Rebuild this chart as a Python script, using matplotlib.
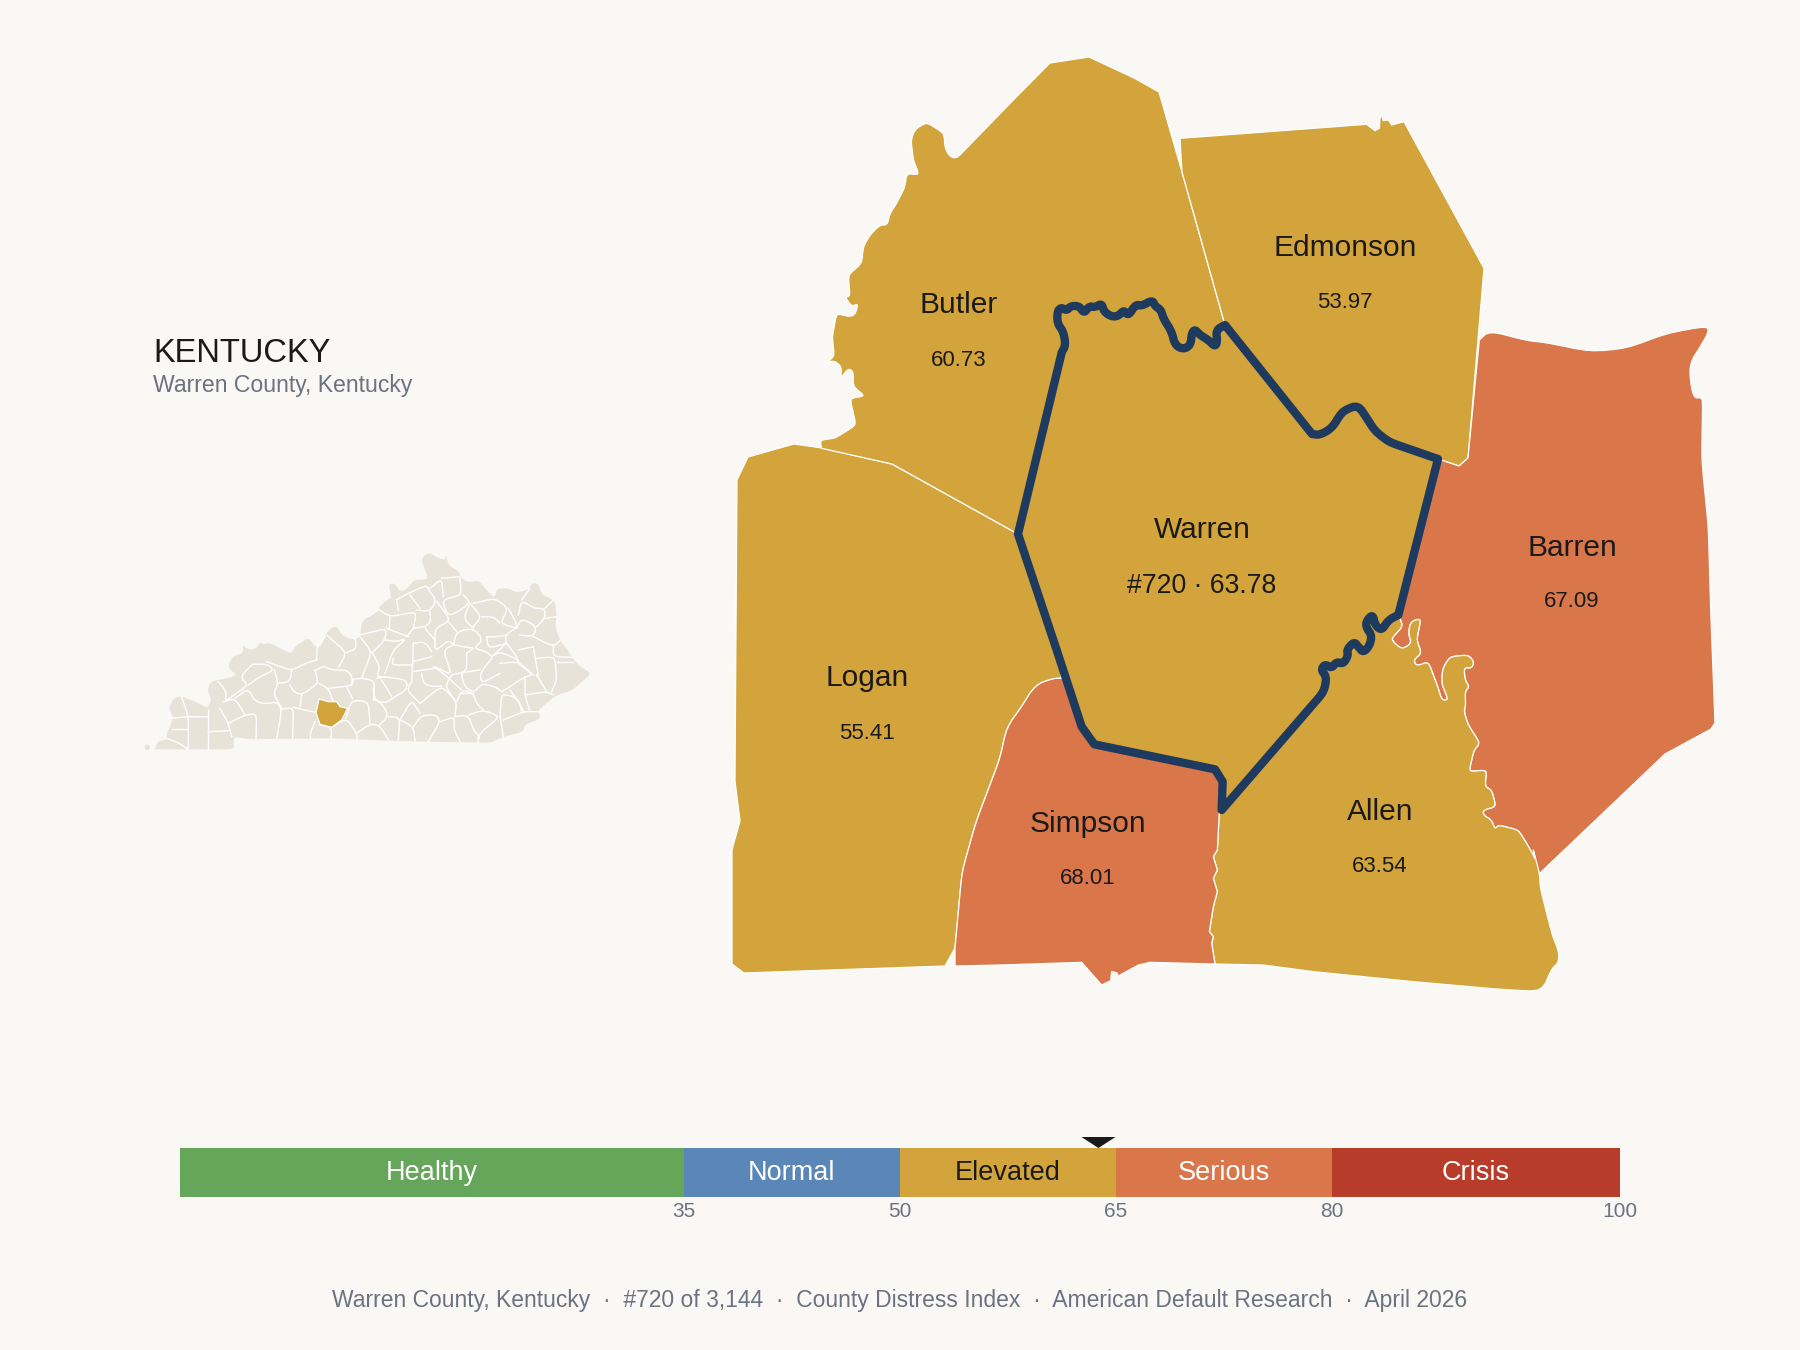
import matplotlib
matplotlib.use("Agg")
import matplotlib.pyplot as plt
from matplotlib.patches import Polygon, Circle
from bisect import bisect_right

plt.rcParams['font.family'] = ['Liberation Sans', 'DejaVu Sans']

BG = '#FAF8F4'
INK = '#1A1A1A'
GREY = '#6B7280'
NAVY = '#1E3A5F'
LAND = '#E8E3D9'

# ---- score bands ----
BAND_NAMES = ['Healthy', 'Normal', 'Elevated', 'Serious', 'Crisis']
BAND_EDGES = [0, 35, 50, 65, 80, 100]
BAND_COLORS = ['#66A65A', '#5B87B8', '#D2A43B', '#D9764A', '#B83C2A']
BAND_TEXT = ['white', 'white', INK, 'white', 'white']
EDGE_LABELS = [35, 50, 65, 80, 100]
WARREN_SCORE = 63.78

# ---- counties ----
COUNTIES = ['Logan', 'Butler', 'Edmonson', 'Barren', 'Allen', 'Simpson', 'Warren']
SCORES = [55.41, 60.73, 53.97, 67.09, 63.54, 68.01, 63.78]
VALUE_TEXT = ['55.41', '60.73', '53.97', '67.09', '63.54', '68.01', '#720 · 63.78']
LABEL_X = [867, 959, 1345, 1572, 1380, 1088, 1202]
NAME_Y = [686, 313, 256, 556, 820, 832, 538]
VALUE_Y = [739, 366, 308, 607, 872, 884, 593]


def crop(x0, y0, pts):
    return [(x0 + x / 3, y0 + y / 3) for x, y in pts]


def soften(pts, d=3.5, rounds=2):
    """Round the corners of a traced border, leaving its two ends in place."""
    for _ in range(rounds):
        out = [pts[0]]
        for (x1, y1), (x2, y2) in zip(pts[:-1], pts[1:]):
            n = ((x2 - x1) ** 2 + (y2 - y1) ** 2) ** 0.5 or 1
            t = min(0.25, d / n)
            out += [(x1 + (x2 - x1) * t, y1 + (y2 - y1) * t), (x2 - (x2 - x1) * t, y2 - (y2 - y1) * t)]
        out.append(pts[-1])
        pts = out
    return pts


# shared borders, map units
W_NORTH = soften(crop(1000, 270, [(185, 248), (197, 225), (190, 185), (172, 160), (172, 125), (183, 112),
                                  (200, 122), (212, 108), (238, 108), (252, 130), (268, 108), (285, 112), (305, 100),
                                  (312, 125), (335, 140), (355, 138), (372, 120), (385, 138), (407, 103), (425, 108),
                                  (457, 90), (465, 108), (483, 120), (490, 145), (515, 185), (525, 225), (550, 238),
                                  (572, 225), (575, 190), (585, 178), (600, 195), (625, 210), (645, 230), (652, 215),
                                  (648, 180), (675, 165)]))
W_NE = soften([(1312, 434), (1320, 435), (1332, 428), (1340, 415), (1345, 410), (1358, 405), (1368, 420), (1375, 431),
               (1389, 442), (1438, 459)])
W_SE = soften(crop(1220, 590, [(535, 75), (505, 90), (485, 122), (465, 105), (458, 72), (438, 95), (440, 115), (455, 135),
                               (450, 165), (430, 188), (415, 170), (402, 155), (380, 180), (385, 195), (370, 222),
                               (350, 215), (335, 235), (315, 222), (303, 240), (320, 260), (312, 305), (5, 660)]))
W_SOUTH = crop(1000, 650, [(668, 395), (645, 358), (283, 283), (245, 230), (170, 0)])
W_WEST = [(1018, 534)]
WARREN_RING = W_NORTH + W_NE + W_SE + W_SOUTH + W_WEST

ALLEN_BARREN = soften(crop(1220, 590, [(540, 85), (548, 110), (512, 148), (545, 178), (575, 160), (565, 130), (572, 95),
                                       (603, 85), (590, 150), (605, 190), (580, 210), (590, 228), (625, 215), (655, 295),
                                       (665, 330), (685, 330), (665, 280), (668, 235), (690, 200), (745, 195), (762, 215),
                                       (755, 235), (732, 232), (735, 270), (748, 290), (735, 305), (737, 345), (732, 365),
                                       (745, 405), (780, 460), (762, 480), (747, 545), (800, 540), (795, 590), (815, 600),
                                       (828, 650), (790, 660), (790, 675), (815, 690), (825, 718), (835, 705), (895, 720),
                                       (920, 760), (945, 805)]), d=2.5)
SIMPSON_ALLEN = crop(1000, 650, [(658, 485), (652, 600), (640, 620), (652, 660), (640, 685), (652, 725), (640, 770),
                                 (628, 845), (640, 860), (635, 880), (645, 942)])
LOGAN_SIMPSON = soften([(955, 948), (962, 872), (976, 822)] + crop(
    1000, 650, [(0, 325), (20, 232), (65, 170), (105, 105), (160, 85), (185, 85)]), d=6)
BUTLER_COAST = soften(crop(800, 100, [(640, 0), (470, 175), (450, 170), (435, 145), (432, 100), (380, 67), (345, 88),
                                      (333, 120), (340, 180), (358, 225), (320, 220), (315, 260), (290, 310), (270, 340),
                                      (262, 375), (240, 375), (210, 405), (190, 440), (185, 490), (145, 525), (150, 590),
                                      (135, 590), (155, 620), (175, 610), (165, 645), (145, 650), (110, 640), (97, 710),
                                      (103, 770), (70, 795), (100, 780), (125, 800), (122, 835), (145, 805), (160, 815),
                                      (160, 860), (195, 888), (150, 895), (168, 975), (105, 1015), (60, 1020), (65, 1045)]),
                      d=2.5)
BARREN_NORTH = soften(crop(1400, 310, [(238, 90), (268, 62), (380, 92), (435, 97), (570, 125), (680, 115), (800, 70),
                                       (920, 48), (927, 65), (895, 120), (875, 150), (868, 190), (880, 265), (905, 262),
                                       (908, 280), (905, 450), (925, 650), (932, 900)]), d=8)
ALLEN_SOUTH = soften(crop(1180, 780, [(1060, 210), (1080, 285), (1080, 320), (1118, 470), (1137, 515), (1135, 550),
                                      (1115, 565), (1086, 635), (960, 628), (700, 605), (400, 575), (250, 555)]), d=6)

OUTLINES = {
    'Logan': [(794, 444), (748, 457), (737, 480), (735, 781), (740, 821), (732, 850), (732, 964), (744, 973),
              (945, 966)] + LOGAN_SIMPSON + [(1057, 650), (1018, 534), (892, 464), (822, 448)],
    'Butler': [(1050, 63), (1089, 57), (1134, 78), (1159, 92), (1182, 172)] + W_NORTH[::-1] + [(1018, 534), (892, 464)]
              + BUTLER_COAST[::-1],
    'Edmonson': crop(1180, 100, [(0, 115), (560, 73), (585, 92), (598, 85), (600, 55), (605, 45), (610, 62),
                                 (625, 60), (635, 75), (672, 65), (912, 505)])
                + [(1468, 458), (1459, 466), (1438, 459)] + W_NE[::-1] + [(1225, 325), (1182, 172)],
    'Barren': [(1438, 459), (1459, 466), (1468, 458)] + BARREN_NORTH
              + [(1715, 723), (1711, 729), (1665, 754), (1538, 875)] + ALLEN_BARREN[::-1] + [(1398, 615)],
    'Allen': W_SE[::-1] + ALLEN_BARREN + ALLEN_SOUTH + SIMPSON_ALLEN[::-1],
    'Simpson': [(955, 966)] + crop(1000, 650, [(0, 945), (245, 937), (305, 1005), (332, 992), (335, 965), (350, 968),
                                               (355, 978), (415, 945), (450, 937)])
               + SIMPSON_ALLEN[::-1] + W_SOUTH + LOGAN_SIMPSON[::-1],
    'Warren': WARREN_RING,
}

# ---- state locator, units of the inset ----
KY_OUTLINE = [(103, 688), (343, 688), (340, 650), (380, 657), (470, 657), (635, 655), (800, 662), (920, 665),
              (1115, 668), (1145, 652), (1210, 635), (1215, 612), (1255, 600), (1262, 585), (1250, 575), (1285, 545),
              (1310, 525), (1355, 512), (1415, 460), (1380, 440), (1355, 412), (1340, 385), (1320, 362), (1305, 315),
              (1310, 290), (1305, 240), (1265, 225), (1255, 190), (1235, 190), (1225, 210), (1190, 218), (1165, 205),
              (1130, 205), (1125, 235), (1100, 210), (1075, 180), (1050, 188), (1022, 175), (1018, 155), (985, 135),
              (978, 103), (975, 120), (950, 112), (928, 97), (903, 115), (915, 150), (925, 178), (890, 180),
              (880, 182), (860, 208), (840, 215), (825, 190), (805, 192), (815, 235), (800, 240), (775, 262),
              (780, 270), (750, 290), (735, 295), (723, 315), (722, 350), (700, 360), (665, 345), (650, 315),
              (625, 330), (615, 350), (605, 375), (590, 385), (565, 352), (540, 370), (525, 380), (515, 400),
              (500, 395), (472, 380), (445, 367), (430, 375), (420, 365), (410, 385), (385, 390), (367, 372),
              (370, 400), (345, 405), (325, 430), (330, 450), (350, 462), (335, 472), (295, 480), (270, 485),
              (262, 515), (275, 535), (265, 565), (240, 552), (190, 530), (165, 530), (145, 565), (160, 590),
              (150, 620), (140, 640), (140, 660), (115, 662), (103, 688)]
KY_DOT = (82, 682)
KY_WARREN = [(597, 537), (625, 545), (650, 545), (660, 560), (683, 565), (665, 600), (635, 622), (600, 613), (588, 578)]
KY_LINES = [
    [(185, 530), (205, 590), (205, 688)], [(150, 595), (205, 590), (265, 590)], [(265, 570), (265, 688)],
    [(155, 628), (205, 628)], [(140, 655), (175, 668), (205, 688)], [(265, 635), (330, 632)],
    [(300, 565), (325, 610), (335, 650)], [(325, 610), (375, 585), (410, 580), (408, 657)],
    [(312, 545), (345, 535), (375, 585)], [(345, 535), (385, 505), (405, 545), (440, 552), (470, 545), (485, 568), (470, 657)],
    [(485, 568), (520, 562), (518, 657)], [(520, 562), (590, 578)], [(585, 605), (570, 640), (572, 655)],
    [(600, 615), (635, 622), (633, 655)], [(635, 622), (680, 595), (710, 640), (712, 660)],
    [(678, 595), (695, 540), (745, 545), (750, 610)], [(710, 640), (750, 612), (778, 615), (805, 660)],
    [(778, 615), (805, 590), (790, 555), (765, 540), (760, 505)], [(805, 590), (840, 592), (835, 660)],
    [(840, 600), (880, 620), (885, 662)], [(880, 620), (905, 585), (950, 585), (960, 605), (925, 665)],
    [(960, 605), (1005, 590), (1000, 625), (1020, 665)], [(1005, 590), (1045, 585), (1060, 630), (1080, 650), (1072, 668)],
    [(1045, 585), (1090, 570), (1140, 590), (1090, 630), (1072, 655)], [(1140, 590), (1150, 650)],
    [(1150, 600), (1210, 575), (1250, 575)], [(1140, 590), (1145, 520), (1195, 535), (1205, 575)],
    [(840, 600), (875, 540), (900, 580)], [(900, 550), (965, 498), (1010, 545), (1005, 590)],
    [(1010, 545), (1025, 510), (1060, 520), (1070, 550), (1090, 570)], [(1025, 510), (970, 460), (940, 440)],
    [(398, 433), (360, 470), (385, 495), (335, 530), (315, 545), (320, 515), (295, 485)],
    [(398, 433), (440, 432), (463, 450), (420, 470), (385, 495)], [(440, 425), (515, 452), (555, 430), (590, 420)],
    [(463, 450), (475, 490), (460, 520), (485, 565)], [(475, 490), (510, 485), (515, 452)],
    [(510, 495), (520, 515), (545, 525), (595, 490), (585, 450)], [(545, 525), (540, 560)],
    [(595, 490), (625, 505), (640, 545)], [(625, 505), (695, 497), (700, 480)],
    [(590, 450), (610, 438), (635, 450), (680, 450), (697, 470), (695, 497)], [(590, 420), (590, 380), (615, 350)],
    [(620, 345), (680, 398), (657, 440)], [(680, 398), (710, 385), (705, 355)], [(720, 350), (755, 395), (725, 475)],
    [(725, 475), (765, 482), (760, 540)], [(697, 478), (725, 475)], [(680, 500), (697, 535)],
    [(755, 395), (780, 440), (770, 470), (795, 470)], [(720, 345), (800, 325), (795, 360), (760, 395)],
    [(800, 325), (865, 350)], [(795, 360), (830, 365), (860, 355), (820, 390), (795, 460)], [(810, 290), (808, 325)],
    [(770, 265), (810, 290), (890, 275), (880, 325)], [(830, 240), (835, 270)],
    [(830, 240), (855, 225), (920, 195), (925, 210), (965, 175), (970, 230)],
    [(925, 210), (950, 240), (930, 275), (890, 270)], [(870, 225), (900, 265)], [(965, 175), (1018, 170)],
    [(1020, 175), (1025, 225), (965, 240), (985, 290), (1030, 265), (1050, 245), (1030, 225)],
    [(950, 245), (985, 290), (985, 305), (945, 325), (945, 360)], [(930, 275), (932, 310), (910, 320), (945, 360)],
    [(880, 325), (910, 320)], [(860, 350), (880, 325)], [(880, 370), (915, 365), (935, 395)],
    [(880, 370), (878, 425), (875, 485)], [(820, 415), (815, 435), (878, 435)], [(878, 425), (935, 410)],
    [(878, 455), (945, 445)], [(875, 485), (860, 510), (900, 550)],
    [(770, 475), (795, 470), (860, 480), (860, 510), (825, 530), (795, 550), (765, 540)], [(785, 480), (815, 530)],
    [(905, 460), (910, 490), (935, 500), (965, 498)], [(945, 440), (995, 465), (970, 390), (1000, 375)],
    [(945, 360), (945, 395), (985, 360), (1000, 375), (1060, 385)],
    [(1000, 375), (1010, 335), (1060, 325), (1090, 360), (1060, 385), (1100, 395), (1115, 410)], [(985, 305), (1010, 335)],
    [(1060, 325), (1030, 295), (1050, 250)], [(1050, 250), (1085, 290), (1060, 320)],
    [(1060, 250), (1125, 235), (1165, 265), (1140, 310), (1190, 325)], [(1085, 290), (1120, 290), (1140, 310)],
    [(1165, 265), (1195, 320), (1155, 345), (1160, 370), (1115, 410)], [(1100, 350), (1135, 350), (1155, 345)],
    [(1100, 350), (1105, 385), (1160, 370)], [(1190, 325), (1205, 295), (1250, 320), (1240, 350), (1200, 345)],
    [(1160, 370), (1190, 410), (1195, 430), (1240, 465)],
    [(1195, 285), (1205, 240), (1240, 265), (1275, 265), (1275, 295), (1250, 320)], [(1205, 240), (1230, 205)],
    [(1275, 265), (1300, 240)], [(1275, 295), (1310, 290)], [(1240, 350), (1300, 380), (1320, 362)],
    [(1240, 380), (1250, 440), (1255, 465)], [(1195, 390), (1240, 380)], [(1300, 380), (1300, 410), (1355, 412)],
    [(1250, 415), (1305, 410), (1310, 480), (1295, 515)], [(1310, 425), (1360, 425)],
    [(1115, 410), (1140, 395), (1195, 420)], [(1115, 415), (1080, 460), (1085, 490), (1140, 460)],
    [(1140, 430), (1195, 425), (1240, 465), (1215, 470), (1170, 500), (1145, 515)], [(1215, 470), (1215, 525), (1230, 575)],
    [(1215, 525), (1280, 515), (1300, 525)], [(1280, 515), (1250, 465)], [(1170, 510), (1205, 560), (1210, 575)],
    [(1040, 400), (1040, 450), (1025, 458), (995, 465)], [(1025, 458), (1080, 450)],
    [(1025, 458), (1030, 495), (1060, 520), (1085, 490), (1125, 500), (1145, 515)], [(1060, 385), (1040, 400)],
    [(995, 465), (975, 500), (1005, 540)], [(1060, 520), (1020, 520)],
]

TITLE = 'KENTUCKY'
SUBTITLE = 'Warren County, Kentucky'
FOOTER = ('Warren County, Kentucky  ·  #720 of 3,144  ·  County Distress Index  ·  '
          'American Default Research  ·  April 2026')

W, H = 1800, 1350
fig = plt.figure(figsize=(18, 13.5), dpi=100, facecolor=BG)


def px_axes(x, y, w, h, xlim, ylim):
    a = fig.add_axes([x / W, 1 - (y + h) / H, w / W, h / H], facecolor='none')
    a.set_xlim(*xlim)
    a.set_ylim(*ylim)
    a.axis('off')
    return a


# main county map
ax = px_axes(0, 0, W, H, (0, W), (H, 0))
for name, score in zip(COUNTIES, SCORES):
    color = BAND_COLORS[bisect_right(BAND_EDGES, score) - 1]
    ax.add_patch(Polygon(OUTLINES[name], closed=True, facecolor=color, edgecolor='white', linewidth=0.9,
                         joinstyle='round', zorder=2))
ax.add_patch(Polygon(WARREN_RING, closed=True, facecolor='none', edgecolor=NAVY, linewidth=6,
                     joinstyle='round', zorder=3))
for name, x, y1, y2, v in zip(COUNTIES, LABEL_X, NAME_Y, VALUE_Y, VALUE_TEXT):
    ax.text(x, y1, name, ha='center', va='baseline', fontsize=21.5, color=INK, zorder=4)
    ax.text(x, y2, v, ha='center', va='baseline', fontsize=19.2 if name == 'Warren' else 16, color=INK, zorder=4)

ax.text(153, 362, TITLE, ha='left', va='baseline', fontsize=23.5, color=INK)
ax.text(153, 392, SUBTITLE, ha='left', va='baseline', fontsize=16.6, color=GREY)
ax.text(900, 1307, FOOTER, ha='center', va='baseline', fontsize=16.5, color=GREY)

# locator map
loc = px_axes(120, 520, 500, 260, (0, 1500), (780, 0))
loc.add_patch(Polygon(soften(KY_OUTLINE, d=8), closed=True, facecolor=LAND, edgecolor='none'))
loc.add_patch(Circle(KY_DOT, 8, facecolor=LAND, edgecolor='none'))
for seg in KY_LINES:
    xs, ys = zip(*soften(seg, d=10))
    loc.plot(xs, ys, color='white', lw=1.0, solid_joinstyle='round')
loc.add_patch(Polygon(KY_WARREN, closed=True, facecolor=BAND_COLORS[2], edgecolor='white', linewidth=0.9, zorder=5))

# severity scale
bar = px_axes(180, 1148, 1440, 49, (0, 100), (1197, 1148))
lefts = BAND_EDGES[:-1]
widths = [b - a for a, b in zip(BAND_EDGES[:-1], BAND_EDGES[1:])]
bar.barh([1172.5] * 5, widths, left=lefts, height=49, color=BAND_COLORS, linewidth=0)
for n, l, w_, c in zip(BAND_NAMES, lefts, widths, BAND_TEXT):
    bar.text(l + w_ / 2, 1180, n, ha='center', va='baseline', fontsize=19.5, color=c)
for e in EDGE_LABELS:
    bar.text(e, 1211.5, str(e), ha='center', va='center', fontsize=15, color=GREY, clip_on=False)
bar.fill([WARREN_SCORE - 1.18, WARREN_SCORE + 1.18, WARREN_SCORE], [1137, 1137, 1148], color=INK, clip_on=False, lw=0)

fig.savefig('out.png', dpi=100, facecolor=BG)
